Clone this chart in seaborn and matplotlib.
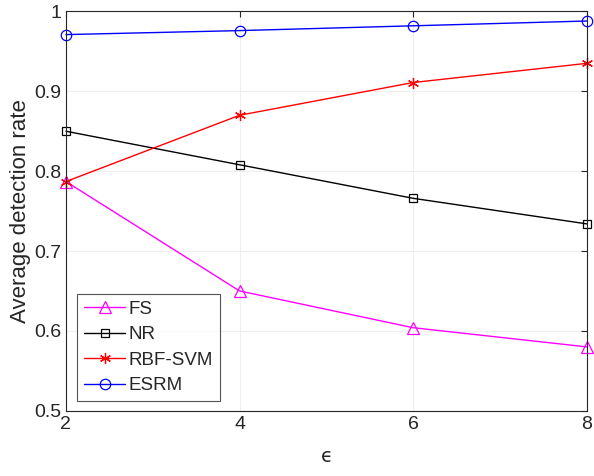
import seaborn as sb
import pandas as pd
import matplotlib.pyplot as plt

eps = [2, 4, 6, 8]
fs = [0.787, 0.650, 0.604, 0.580]
nr = [0.850, 0.808, 0.766, 0.734]
rbf = [0.787, 0.870, 0.911, 0.935]
esrm = [0.971, 0.976, 0.982, 0.988]

series = ["FS", "NR", "RBF-SVM", "ESRM"]
mydata = pd.DataFrame({
    "eps": eps * 4,
    "rate": fs + nr + rbf + esrm,
    "method": [s for s in series for _ in eps],
})

sb.set_style("white")
plt.rcParams["font.family"] = ["Liberation Sans", "DejaVu Sans"]

colors = {"FS": "#ff00ff", "NR": "black", "RBF-SVM": "red", "ESRM": "blue"}
markers = {"FS": "^", "NR": "s", "RBF-SVM": (6, 2, 0), "ESRM": "o"}
msize = {"FS": 8, "NR": 5.5, "RBF-SVM": 8, "ESRM": 7.5}

fig = plt.figure(figsize=(5.94, 4.76), dpi=100)
ax = fig.add_axes([0.111, 0.137, 0.877, 0.839])

for name in series:
    sub = mydata[mydata["method"] == name]
    sb.lineplot(x="eps", y="rate", data=sub, ax=ax, color=colors[name],
                marker=markers[name], markersize=msize[name],
                markerfacecolor="none", markeredgecolor=colors[name],
                markeredgewidth=0.9, linewidth=1.0, label=name, clip_on=False)

ax.set_xlim(2, 8)
ax.set_ylim(0.5, 1.0)
ax.set_xticks([2, 4, 6, 8])
ax.set_yticks([0.5, 0.6, 0.7, 0.8, 0.9, 1.0])
ax.set_yticklabels(["0.5", "0.6", "0.7", "0.8", "0.9", "1"])
ax.grid(True, color="#efefef", linewidth=0.8)
ax.set_axisbelow(True)
ax.tick_params(direction="in", length=4, labelsize=14, width=0.8,
               top=True, right=True, colors="#262626")
for s in ax.spines.values():
    s.set_color("#262626")
    s.set_linewidth(0.8)
ax.set_xlabel("\u03f5", fontsize=14, color="#262626", labelpad=10,
              family=["DejaVu Sans"])
ax.set_ylabel("Average detection rate", fontsize=16, color="#262626", labelpad=2)

leg = ax.legend(loc="lower left", bbox_to_anchor=(0.022, 0.025), fontsize=13.5,
                frameon=True, fancybox=False, edgecolor="#262626",
                handlelength=2.2, borderpad=0.35, labelspacing=0.45,
                handletextpad=0.2, borderaxespad=0)
leg.get_frame().set_linewidth(0.8)

plt.savefig("out.png", dpi=100)
